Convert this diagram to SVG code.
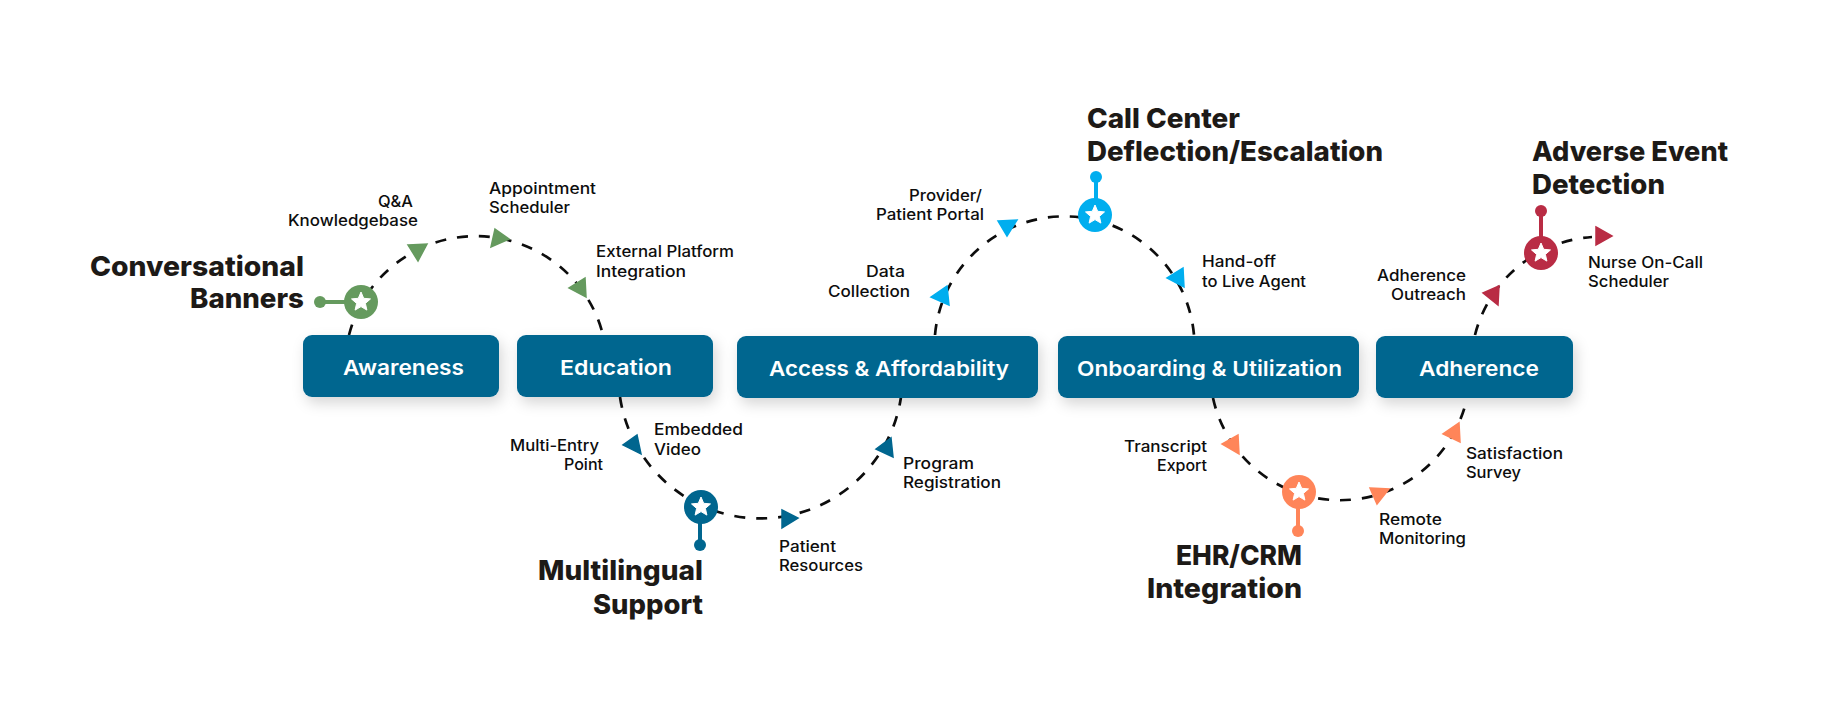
<svg xmlns="http://www.w3.org/2000/svg" xmlns:xlink="http://www.w3.org/1999/xlink" width="1835" height="721" viewBox="0 0 1835 721">
<style>
text{font-family:Inter,"Noto Sans","Liberation Sans",sans-serif}
.l{font-size:15.5px;font-weight:500;fill:#0d0d0d}
.h{font-size:27.5px;font-weight:800;fill:#1d1a17}
.b{font-size:20.5px;font-weight:600;fill:#fff}
.box{fill:#00668f;filter:url(#sh)}
.arc{fill:none;stroke:#0d0d0d;stroke-width:2.7;stroke-dasharray:11 11}
.stem{stroke-width:4;fill:none}
.tri polygon{stroke-width:1.5;stroke-linejoin:miter}
</style>
<defs>
<filter id="sh" x="-15%" y="-30%" width="130%" height="170%"><feDropShadow dx="3" dy="6" stdDeviation="7" flood-color="#000" flood-opacity=".16"/></filter>
<polygon id="star" fill="#fff" stroke="#fff" stroke-width="1" stroke-linejoin="round" points="0,-10 2.7,-3.7 9.5,-3.1 4.4,1.4 5.9,8.1 0,4.6 -5.9,8.1 -4.4,1.4 -9.5,-3.1 -2.7,-3.7"/>
</defs>
<rect width="1835" height="721" fill="#fff"/>
<g id="connectors">
<path class="arc" d="M349,335A131,131 0 0 1 603,335"/>
<path class="arc" d="M620,397A142,142 0 0 0 901,397"/>
<path class="arc" d="M935,335A130,130 0 0 1 1194,335"/>
<path class="arc" d="M1213,398A130,130 0 0 0 1467,398"/>
<path class="arc" d="M1475,335A130,130 0 0 1 1592,237"/>
<g class="tri" fill="#659a5e" stroke="#659a5e"><polygon points="408,245 427,244 418,261"/><polygon points="495,229 509,239 491,247"/><polygon points="585,278 586,297 569,288"/></g>
<g class="tri" fill="#00668f" stroke="#00668f"><polygon points="637,435 641,454 623,445"/><polygon points="782,510 798,518 782,528"/><polygon points="891,438 893,457 876,449"/></g>
<g class="tri" fill="#00aeef" stroke="#00aeef"><polygon points="947,286 949,305 931,297"/><polygon points="998,221 1017,220 1007,236"/><polygon points="1183,268 1184,287 1167,278"/></g>
<g class="tri" fill="#ff8559" stroke="#ff8559"><polygon points="1238,435 1239,454 1222,444"/><polygon points="1370,488 1389,489 1377,504"/><polygon points="1459,423 1460,442 1443,434"/></g>
<g class="tri" fill="#b92c44" stroke="#b92c44"><polygon points="1499,286 1498,305 1483,293"/><polygon points="1596,227 1612,236 1596,245"/></g>
</g>
<g id="awareness"><rect class="box" x="303" y="335" width="196" height="62" rx="9"/><text class="b" x="343" y="375" textLength="121" lengthAdjust="spacingAndGlyphs">Awareness</text></g>
<g id="education"><rect class="box" x="517" y="335" width="196" height="62" rx="9"/><text class="b" x="560" y="375" textLength="112" lengthAdjust="spacingAndGlyphs">Education</text></g>
<g id="access"><rect class="box" x="737" y="336" width="301" height="62" rx="9"/><text class="b" x="769" y="375.500" textLength="240" lengthAdjust="spacingAndGlyphs">Access &amp; Affordability</text></g>
<g id="onboarding"><rect class="box" x="1058" y="336" width="301" height="62" rx="9"/><text class="b" x="1077" y="375.500" textLength="265" lengthAdjust="spacingAndGlyphs">Onboarding &amp; Utilization</text></g>
<g id="adherence"><rect class="box" x="1376" y="336" width="197" height="62" rx="9"/><text class="b" x="1419" y="375.500" textLength="120" lengthAdjust="spacingAndGlyphs">Adherence</text></g>
<g id="conversational-banners"><path class="stem" stroke="#659a5e" d="M320,302H361"/><circle cx="320" cy="302" r="6" fill="#659a5e"/><circle cx="361" cy="302" r="17" fill="#659a5e"/><use href="#star" x="361" y="302"/>
<text class="h" x="90" y="276" textLength="214" lengthAdjust="spacingAndGlyphs">Conversational</text><text class="h" x="190" y="308" textLength="114" lengthAdjust="spacingAndGlyphs">Banners</text></g>
<g id="multilingual-support"><path class="stem" stroke="#00668f" d="M700,507V545"/><circle cx="700" cy="545" r="6" fill="#00668f"/><circle cx="701" cy="507" r="17" fill="#00668f"/><use href="#star" x="701" y="507"/>
<text class="h" x="538" y="580" textLength="165" lengthAdjust="spacingAndGlyphs">Multilingual</text><text class="h" x="593" y="614" textLength="110" lengthAdjust="spacingAndGlyphs">Support</text></g>
<g id="call-center"><path class="stem" stroke="#00aeef" d="M1096,177V216"/><circle cx="1096" cy="177" r="6" fill="#00aeef"/><circle cx="1095" cy="215" r="17" fill="#00aeef"/><use href="#star" x="1095" y="215"/>
<text class="h" x="1087" y="128" textLength="153" lengthAdjust="spacingAndGlyphs">Call Center</text><text class="h" x="1087" y="161" textLength="296" lengthAdjust="spacingAndGlyphs">Deflection/Escalation</text></g>
<g id="ehr-crm"><path class="stem" stroke="#ff8559" d="M1298,492V531"/><circle cx="1298" cy="531" r="6" fill="#ff8559"/><circle cx="1299" cy="492" r="17" fill="#ff8559"/><use href="#star" x="1299" y="492"/>
<text class="h" x="1176" y="565" textLength="126" lengthAdjust="spacingAndGlyphs">EHR/CRM</text><text class="h" x="1147" y="598" textLength="155" lengthAdjust="spacingAndGlyphs">Integration</text></g>
<g id="adverse-event"><path class="stem" stroke="#b92c44" d="M1541,211V253"/><circle cx="1541" cy="211" r="6" fill="#b92c44"/><circle cx="1541" cy="253" r="17" fill="#b92c44"/><use href="#star" x="1541" y="253"/>
<text class="h" x="1532" y="161" textLength="196" lengthAdjust="spacingAndGlyphs">Adverse Event</text><text class="h" x="1532" y="194" textLength="133" lengthAdjust="spacingAndGlyphs">Detection</text></g>
<g id="labels">
<text class="l" x="378" y="207" textLength="35" lengthAdjust="spacingAndGlyphs">Q&amp;A</text><text class="l" x="288" y="226" textLength="130" lengthAdjust="spacingAndGlyphs">Knowledgebase</text>
<text class="l" x="489" y="194" textLength="107" lengthAdjust="spacingAndGlyphs">Appointment</text><text class="l" x="489" y="213" textLength="81" lengthAdjust="spacingAndGlyphs">Scheduler</text>
<text class="l" x="596" y="257" textLength="138" lengthAdjust="spacingAndGlyphs">External Platform</text><text class="l" x="596" y="277" textLength="90" lengthAdjust="spacingAndGlyphs">Integration</text>
<text class="l" x="654" y="435" textLength="89" lengthAdjust="spacingAndGlyphs">Embedded</text><text class="l" x="654" y="455" textLength="47" lengthAdjust="spacingAndGlyphs">Video</text>
<text class="l" x="510" y="451" textLength="89" lengthAdjust="spacingAndGlyphs">Multi-Entry</text><text class="l" x="564" y="470" textLength="39" lengthAdjust="spacingAndGlyphs">Point</text>
<text class="l" x="779" y="552" textLength="57" lengthAdjust="spacingAndGlyphs">Patient</text><text class="l" x="779" y="571" textLength="84" lengthAdjust="spacingAndGlyphs">Resources</text>
<text class="l" x="903" y="469" textLength="71" lengthAdjust="spacingAndGlyphs">Program</text><text class="l" x="903" y="488" textLength="98" lengthAdjust="spacingAndGlyphs">Registration</text>
<text class="l" x="909" y="201" textLength="73" lengthAdjust="spacingAndGlyphs">Provider/</text><text class="l" x="876" y="220" textLength="108" lengthAdjust="spacingAndGlyphs">Patient Portal</text>
<text class="l" x="866" y="277" textLength="39" lengthAdjust="spacingAndGlyphs">Data</text><text class="l" x="828" y="297" textLength="82" lengthAdjust="spacingAndGlyphs">Collection</text>
<text class="l" x="1202" y="267" textLength="74" lengthAdjust="spacingAndGlyphs">Hand-off</text><text class="l" x="1202" y="287" textLength="104" lengthAdjust="spacingAndGlyphs">to Live Agent</text>
<text class="l" x="1124" y="452" textLength="83" lengthAdjust="spacingAndGlyphs">Transcript</text><text class="l" x="1157" y="471" textLength="50" lengthAdjust="spacingAndGlyphs">Export</text>
<text class="l" x="1466" y="459" textLength="97" lengthAdjust="spacingAndGlyphs">Satisfaction</text><text class="l" x="1466" y="478" textLength="55" lengthAdjust="spacingAndGlyphs">Survey</text>
<text class="l" x="1379" y="525" textLength="63" lengthAdjust="spacingAndGlyphs">Remote</text><text class="l" x="1379" y="544" textLength="87" lengthAdjust="spacingAndGlyphs">Monitoring</text>
<text class="l" x="1377" y="281" textLength="89" lengthAdjust="spacingAndGlyphs">Adherence</text><text class="l" x="1391" y="300" textLength="75" lengthAdjust="spacingAndGlyphs">Outreach</text>
<text class="l" x="1588" y="268" textLength="115" lengthAdjust="spacingAndGlyphs">Nurse On-Call</text><text class="l" x="1588" y="287" textLength="81" lengthAdjust="spacingAndGlyphs">Scheduler</text>
</g>
</svg>
